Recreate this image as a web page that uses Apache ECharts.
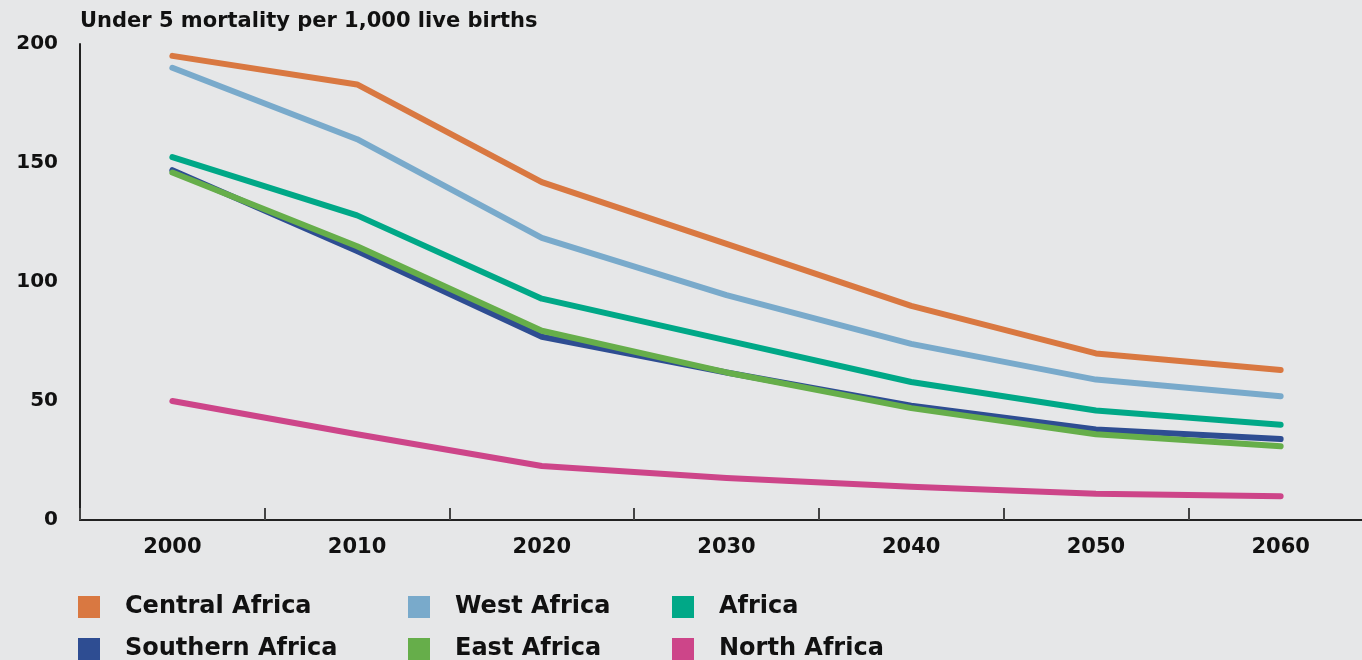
<!DOCTYPE html>
<html><head><meta charset="utf-8">
<script src="https://cdn.jsdelivr.net/npm/echarts@6/dist/echarts.min.js"></script>
<style>html,body{margin:0;padding:0;background:#e6e7e8;overflow:hidden;}#c{width:1373px;height:660px;}</style>
</head><body><div id="c"></div>
<script>
const years = ['2000','2010','2020','2030','2040','2050','2060'];
const yTicks = [0, 50, 100, 150, 200];
const centralAfrica = [195, 183, 142, 116, 90, 70, 63];
const westAfrica = [190, 160, 118.5, 94.5, 74, 59, 52];
const africa = [152.5, 128, 93, 75.5, 58, 46, 40];
const southernAfrica = [147, 113, 77, 62, 48, 38, 34];
const eastAfrica = [146, 115, 79.5, 62, 47, 36, 31];
const northAfrica = [50, 36, 22.7, 17.6, 14, 11, 10];
const seriesNames = ['Central Africa','West Africa','Africa','Southern Africa','East Africa','North Africa'];
const seriesData = [centralAfrica, westAfrica, africa, southernAfrica, eastAfrica, northAfrica];
const colors = ['#d97841','#79aacb','#00a887','#2e4d92','#66ae4a','#cd4589'];
const font = '"DejaVu Sans", sans-serif';

const chart = echarts.init(document.getElementById('c'));
const legendPos = [[78,595],[408,595],[672,595],[78,637],[408,637],[672,637]];
chart.setOption({
  backgroundColor: '#e6e7e8',
  animation: false,
  color: colors,
  title: {
    text: 'Under 5 mortality per 1,000 live births',
    left: 80, top: 11, padding: 0,
    textStyle: {fontFamily: font, fontWeight: 'bold', fontSize: 21, color: '#111'}
  },
  legend: seriesNames.map((n, i) => ({
    data: [n], left: legendPos[i][0], top: legendPos[i][1],
    icon: 'rect', itemWidth: 22, itemHeight: 22, itemGap: 10, padding: 0,
    textStyle: {fontFamily: font, fontWeight: 'bold', fontSize: 24, color: '#111', padding: [0,0,0,20]}
  })),
  grid: {left: 80, top: 44, right: 0, bottom: 140, containLabel: false},
  xAxis: {
    type: 'category', data: years, boundaryGap: true,
    axisLine: {show: true, lineStyle: {color: '#222', width: 2}},
    axisTick: {show: true, interval: 0, inside: true, length: 12, lineStyle: {color: '#444', width: 2}},
    axisLabel: {fontFamily: font, fontWeight: 'bold', fontSize: 21, color: '#111', margin: 17}
  },
  yAxis: {
    type: 'value', min: 0, max: 200, interval: 50,
    axisLine: {show: true, lineStyle: {color: '#222', width: 2}},
    axisTick: {show: false},
    splitLine: {show: false},
    axisLabel: {fontFamily: font, fontWeight: 'bold', fontSize: 20, color: '#111', margin: 22,
      formatter: v => yTicks.includes(v) ? String(v) : ''}
  },
  series: seriesData.map((d, i) => ({
    name: seriesNames[i], type: 'line', data: d, showSymbol: false, symbol: 'none',
    z: i === 4 ? 3 : 2,
    lineStyle: {width: 6, color: colors[i], cap: 'round', join: 'round'},
    itemStyle: {color: colors[i]}
  }))
});
</script></body></html>
